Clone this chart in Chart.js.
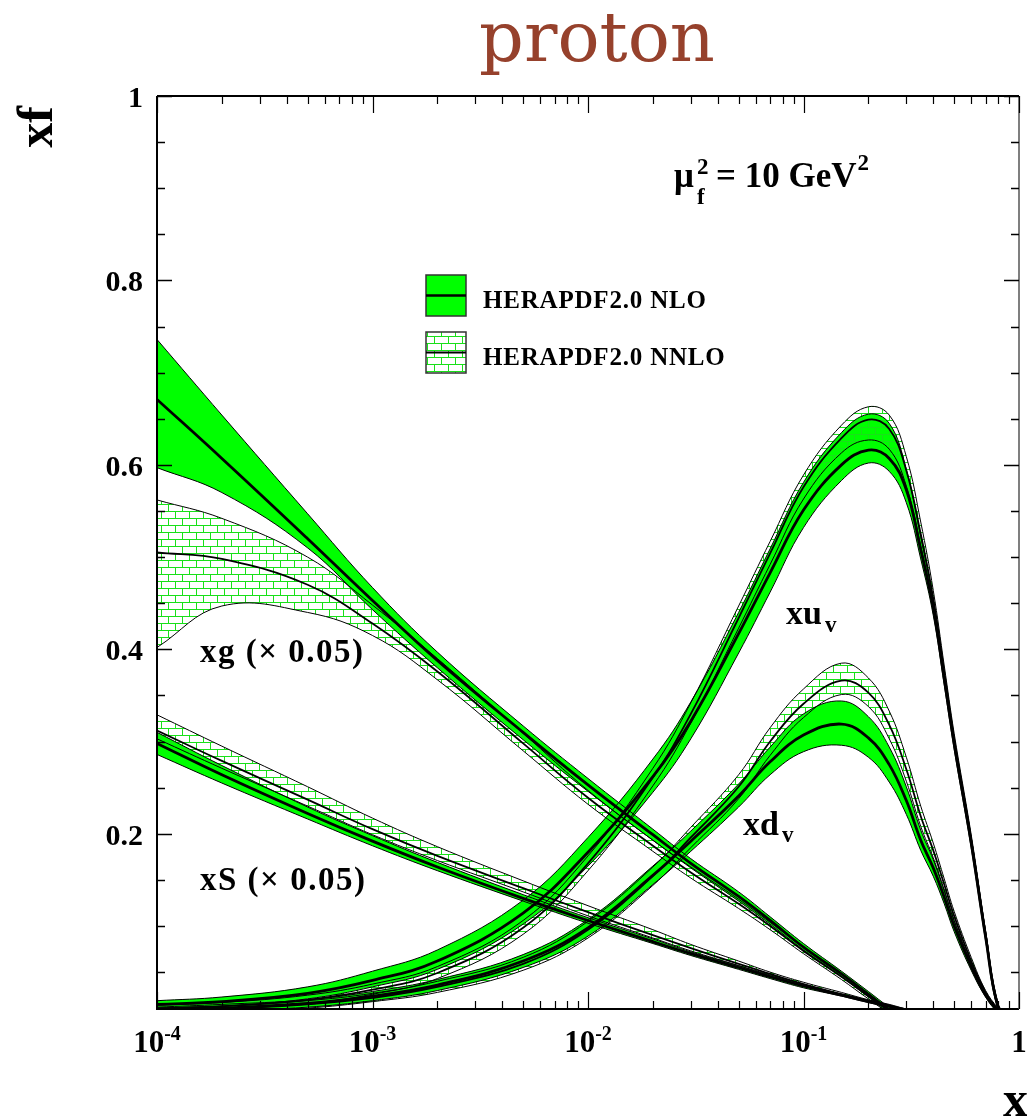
<!DOCTYPE html>
<html>
<head>
<meta charset="utf-8">
<script src="https://cdn.jsdelivr.net/npm/chart.js@4.4.1/dist/chart.umd.min.js"></script>
<style>
  html, body { margin: 0; padding: 0; background: #ffffff; }
  canvas { display: block; }
</style>
</head>
<body>
<canvas id="pdf" width="1027" height="1119" style="width:1027px;height:1119px"></canvas>
<script>
// ---- x grid (momentum fraction) ----
const xGrid = [1e-4, 2e-4, 5e-4, 1e-3, 2e-3, 5e-3, 0.01, 0.02, 0.03, 0.05, 0.07, 0.1,
               0.15, 0.2, 0.25, 0.3, 0.35, 0.4, 0.45, 0.5, 0.6, 0.7, 0.8, 0.9];

// ---- xg (x 0.05) ----
const gNloMid  = [0.671, 0.607, 0.520, 0.453, 0.388, 0.310, 0.253, 0.199, 0.168, 0.132, 0.106, 0.077, 0.048, 0.026, 0.009, 0, 0, 0, 0, 0, 0, 0, 0, 0];
const gNloLo   = [0.597, 0.570, 0.510, 0.443, 0.380, 0.302, 0.246, 0.193, 0.163, 0.127, 0.102, 0.074, 0.045, 0.023, 0.006, 0, 0, 0, 0, 0, 0, 0, 0, 0];
const gNloHi   = [0.736, 0.654, 0.547, 0.467, 0.397, 0.317, 0.260, 0.205, 0.173, 0.137, 0.110, 0.081, 0.051, 0.029, 0.012, 0.001, 0, 0, 0, 0, 0, 0, 0, 0];
const gNnloMid = [0.505, 0.498, 0.470, 0.428, 0.376, 0.298, 0.239, 0.187, 0.158, 0.124, 0.100, 0.073, 0.045, 0.024, 0.008, 0, 0, 0, 0, 0, 0, 0, 0, 0];
const gNnloLo  = [0.402, 0.447, 0.440, 0.415, 0.367, 0.290, 0.232, 0.181, 0.152, 0.119, 0.096, 0.070, 0.042, 0.021, 0.006, 0, 0, 0, 0, 0, 0, 0, 0, 0];
const gNnloHi  = [0.562, 0.542, 0.500, 0.448, 0.390, 0.309, 0.247, 0.193, 0.164, 0.129, 0.104, 0.077, 0.048, 0.027, 0.010, 0, 0, 0, 0, 0, 0, 0, 0, 0];

// ---- xS (x 0.05) ----
const sNloMid  = [0.298, 0.264, 0.222, 0.192, 0.164, 0.130, 0.106, 0.083, 0.070, 0.055, 0.045, 0.035, 0.025, 0.018, 0.013, 0.009, 0.006, 0.004, 0.002, 0.001, 0, 0, 0, 0];
const sNloLo   = [0.286, 0.255, 0.216, 0.187, 0.160, 0.127, 0.103, 0.081, 0.068, 0.053, 0.043, 0.033, 0.024, 0.017, 0.012, 0.008, 0.005, 0.003, 0.001, 0, 0, 0, 0, 0];
const sNloHi   = [0.310, 0.274, 0.229, 0.198, 0.169, 0.134, 0.109, 0.086, 0.072, 0.057, 0.047, 0.037, 0.026, 0.019, 0.014, 0.010, 0.007, 0.005, 0.003, 0.002, 0, 0, 0, 0];
const sNnloMid = [0.312, 0.279, 0.237, 0.205, 0.176, 0.141, 0.115, 0.090, 0.076, 0.059, 0.048, 0.037, 0.026, 0.019, 0.014, 0.009, 0.006, 0.004, 0.002, 0.001, 0, 0, 0, 0];
const sNnloLo  = [0.303, 0.271, 0.230, 0.199, 0.171, 0.137, 0.111, 0.087, 0.073, 0.057, 0.046, 0.035, 0.025, 0.018, 0.013, 0.008, 0.005, 0.003, 0.001, 0, 0, 0, 0, 0];
const sNnloHi  = [0.329, 0.295, 0.251, 0.217, 0.186, 0.149, 0.122, 0.096, 0.080, 0.062, 0.050, 0.039, 0.028, 0.020, 0.015, 0.010, 0.007, 0.005, 0.003, 0.001, 0, 0, 0, 0];

// ---- xu_v ----
const uNloMid  = [0.015, 0.018, 0.027, 0.041, 0.062, 0.114, 0.180, 0.262, 0.322, 0.417, 0.483, 0.551, 0.600, 0.616, 0.607, 0.573, 0.508, 0.445, 0.368, 0.298, 0.190, 0.088, 0.012, 0];
const uNloLo   = [0.010, 0.013, 0.021, 0.034, 0.053, 0.102, 0.165, 0.245, 0.303, 0.396, 0.462, 0.532, 0.583, 0.602, 0.593, 0.559, 0.498, 0.437, 0.361, 0.292, 0.185, 0.084, 0.009, 0];
const uNloHi   = [0.019, 0.023, 0.034, 0.051, 0.074, 0.128, 0.196, 0.281, 0.343, 0.440, 0.509, 0.581, 0.635, 0.655, 0.645, 0.595, 0.522, 0.454, 0.375, 0.304, 0.196, 0.094, 0.015, 0];
const uNnloMid = [0.011, 0.013, 0.020, 0.031, 0.049, 0.098, 0.168, 0.261, 0.330, 0.434, 0.504, 0.576, 0.629, 0.649, 0.639, 0.594, 0.525, 0.455, 0.375, 0.303, 0.194, 0.091, 0.013, 0];
const uNnloLo  = [0.008, 0.010, 0.016, 0.026, 0.043, 0.091, 0.160, 0.252, 0.320, 0.423, 0.492, 0.563, 0.613, 0.627, 0.617, 0.577, 0.512, 0.447, 0.368, 0.297, 0.189, 0.087, 0.010, 0];
const uNnloHi  = [0.014, 0.017, 0.025, 0.037, 0.056, 0.106, 0.176, 0.271, 0.342, 0.447, 0.517, 0.589, 0.643, 0.663, 0.654, 0.609, 0.538, 0.464, 0.382, 0.309, 0.199, 0.095, 0.016, 0];

// ---- xd_v ----
const dNloMid  = [0.009, 0.011, 0.016, 0.024, 0.036, 0.062, 0.098, 0.155, 0.192, 0.241, 0.278, 0.307, 0.319, 0.304, 0.275, 0.236, 0.193, 0.163, 0.131, 0.100, 0.056, 0.025, 0.008, 0];
const dNloLo   = [0.006, 0.008, 0.012, 0.019, 0.030, 0.055, 0.089, 0.145, 0.181, 0.229, 0.264, 0.289, 0.296, 0.283, 0.256, 0.221, 0.182, 0.154, 0.124, 0.094, 0.052, 0.023, 0.006, 0];
const dNloHi   = [0.012, 0.015, 0.020, 0.029, 0.042, 0.069, 0.107, 0.165, 0.203, 0.254, 0.294, 0.330, 0.344, 0.327, 0.294, 0.251, 0.204, 0.172, 0.138, 0.106, 0.060, 0.028, 0.010, 0];
const dNnloMid = [0.008, 0.010, 0.015, 0.022, 0.034, 0.059, 0.096, 0.154, 0.196, 0.251, 0.300, 0.341, 0.366, 0.353, 0.318, 0.270, 0.219, 0.182, 0.145, 0.111, 0.062, 0.028, 0.009, 0];
const dNnloLo  = [0.005, 0.007, 0.011, 0.018, 0.028, 0.052, 0.087, 0.144, 0.185, 0.238, 0.285, 0.326, 0.351, 0.338, 0.303, 0.257, 0.208, 0.174, 0.139, 0.106, 0.058, 0.026, 0.007, 0];
const dNnloHi  = [0.011, 0.013, 0.019, 0.027, 0.040, 0.066, 0.105, 0.164, 0.207, 0.264, 0.315, 0.357, 0.385, 0.369, 0.333, 0.283, 0.230, 0.190, 0.151, 0.116, 0.066, 0.030, 0.011, 0];

// ---- axis ticks ----
const xTickValues = [1e-4, 1e-3, 1e-2, 1e-1, 1];
const xTickExps   = ['-4', '-3', '-2', '-1', null];
const yTickValues = [0.2, 0.4, 0.6, 0.8, 1];
const yTickLabels = ['0.2', '0.4', '0.6', '0.8', '1'];

const legendLabels = ['HERAPDF2.0 NLO', 'HERAPDF2.0 NNLO'];

// ---- styles ----
const GREEN = '#00ff00';
const SERIF = '"Liberation Serif", "Times New Roman", serif';

function brickPattern() {
  const c = document.createElement('canvas');
  c.width = 14; c.height = 14;
  const g = c.getContext('2d');
  g.strokeStyle = '#19e019';
  g.lineWidth = 1;
  g.beginPath();
  g.moveTo(0, 0.5);  g.lineTo(14, 0.5);
  g.moveTo(0, 7.5);  g.lineTo(14, 7.5);
  g.moveTo(0.5, 0);  g.lineTo(0.5, 7);
  g.moveTo(7.5, 7);  g.lineTo(7.5, 14);
  g.stroke();
  return document.getElementById('pdf').getContext('2d').createPattern(c, 'repeat');
}
const BRICK = brickPattern();

const pts = arr => xGrid.map((x, i) => ({ x: x, y: arr[i] }));

const datasets = [];
function addBand(lo, hi, fillStyle, order) {
  datasets.push({ data: pts(lo), borderColor: '#000', borderWidth: 1, fill: false, order: order });
  datasets.push({ data: pts(hi), borderColor: '#000', borderWidth: 1, fill: '-1',
                  backgroundColor: fillStyle, order: order });
}
function addCentral(mid, width, order) {
  datasets.push({ data: pts(mid), borderColor: '#000', borderWidth: width, fill: false, order: order });
}

const pdfs = [
  [gNloLo, gNloMid, gNloHi, gNnloLo, gNnloMid, gNnloHi],
  [sNloLo, sNloMid, sNloHi, sNnloLo, sNnloMid, sNnloHi],
  [uNloLo, uNloMid, uNloHi, uNnloLo, uNnloMid, uNnloHi],
  [dNloLo, dNloMid, dNloHi, dNnloLo, dNnloMid, dNnloHi]
];
pdfs.forEach(p => addBand(p[0], p[2], GREEN, 10));
pdfs.forEach(p => addBand(p[3], p[5], BRICK, 6));
pdfs.forEach(p => addCentral(p[4], 1.8, 3));
pdfs.forEach(p => addCentral(p[1], 2.8, 1));

// frame, ticks, labels, legend and annotations
const decorations = {
  id: 'decorations',
  afterDraw(chart) {
    const ctx = chart.ctx;
    const a = chart.chartArea;
    const xs = chart.scales.x, ys = chart.scales.y;
    ctx.save();

    // frame
    ctx.strokeStyle = '#000';
    ctx.lineWidth = 2;
    ctx.beginPath();
    ctx.moveTo(a.left, a.top); ctx.lineTo(a.left, a.bottom); ctx.lineTo(a.right, a.bottom);
    ctx.moveTo(a.left, a.top); ctx.lineTo(a.right, a.top);
    ctx.stroke();
    ctx.strokeStyle = '#555';
    ctx.lineWidth = 1.5;
    ctx.beginPath();
    ctx.moveTo(a.right, a.top); ctx.lineTo(a.right, a.bottom);
    ctx.stroke();

    // y ticks (every 0.05, long ones at the labelled values)
    ctx.strokeStyle = '#000';
    ctx.lineWidth = 1.5;
    ctx.beginPath();
    for (let k = 1; k <= 20; k++) {
      const v = k / 20;
      const py = Math.round(ys.getPixelForValue(v)) + 0.5;
      const major = (k % 4 === 0);
      const len = major ? 15 : 8;
      ctx.moveTo(a.left, py); ctx.lineTo(a.left + len, py);
      ctx.moveTo(a.right, py); ctx.lineTo(a.right - len, py);
    }
    ctx.stroke();

    // x ticks (decades long, 2..9 short)
    ctx.lineWidth = 1.2;
    ctx.beginPath();
    for (let d = -4; d <= 0; d++) {
      for (let m = 1; m <= 9; m++) {
        const v = m * Math.pow(10, d);
        if (v > 1.0000001) break;
        const px = Math.round(xs.getPixelForValue(v)) + 0.5;
        const len = (m === 1) ? 17 : 8;
        ctx.moveTo(px, a.bottom); ctx.lineTo(px, a.bottom - len);
        ctx.moveTo(px, a.top); ctx.lineTo(px, a.top + len);
      }
    }
    ctx.stroke();

    ctx.fillStyle = '#000';
    ctx.textBaseline = 'alphabetic';

    // y tick labels
    ctx.font = 'bold 30px ' + SERIF;
    ctx.textAlign = 'right';
    yTickValues.forEach((v, i) => {
      ctx.fillText(yTickLabels[i], 143, ys.getPixelForValue(v) + 11);
    });

    // x tick labels: 10 with superscript exponent
    xTickValues.forEach((v, i) => {
      const px = xs.getPixelForValue(v);
      const exp = xTickExps[i];
      if (exp === null) {
        ctx.font = 'bold 31px ' + SERIF;
        ctx.textAlign = 'center';
        ctx.fillText('1', px, 1052);
        return;
      }
      ctx.textAlign = 'left';
      ctx.font = 'bold 31px ' + SERIF;
      const wBase = ctx.measureText('10').width;
      ctx.font = 'bold 20px ' + SERIF;
      const wExp = ctx.measureText(exp).width;
      const x0 = px - (wBase + wExp) / 2;
      ctx.font = 'bold 31px ' + SERIF;
      ctx.fillText('10', x0, 1052);
      ctx.font = 'bold 20px ' + SERIF;
      ctx.fillText(exp, x0 + wBase, 1040);
    });

    // axis titles
    ctx.font = 'bold 50px ' + SERIF;
    ctx.textAlign = 'left';
    ctx.fillText('x', 1003, 1116);
    ctx.save();
    ctx.translate(52, 127);
    ctx.rotate(-Math.PI / 2);
    ctx.textAlign = 'center';
    ctx.fillText('xf', 0, 0);
    ctx.restore();

    // title
    ctx.font = '70px "DejaVu Serif", serif';
    ctx.fillStyle = '#96412c';
    ctx.textAlign = 'center';
    ctx.fillText('proton', 597, 61);
    ctx.fillStyle = '#000';

    // scale annotation  mu_f^2 = 10 GeV^2
    ctx.textAlign = 'left';
    ctx.font = 'bold 35px ' + SERIF;
    ctx.fillText('\u03bc', 674, 187);
    ctx.font = 'bold 23px ' + SERIF;
    ctx.fillText('2', 697, 174);
    ctx.fillText('f', 697, 204);
    ctx.font = 'bold 35px ' + SERIF;
    ctx.fillText('= 10 GeV', 716, 187);
    const wg = ctx.measureText('= 10 GeV').width;
    ctx.font = 'bold 23px ' + SERIF;
    ctx.fillText('2', 716 + wg + 1, 170);

    // curve labels
    ctx.font = 'bold 33px ' + SERIF;
    ctx.letterSpacing = '1.5px';
    ctx.fillText('xg (\u00d7 0.05)', 200, 662);
    ctx.fillText('xS (\u00d7 0.05)', 200, 890);
    ctx.letterSpacing = '0px';
    ctx.font = 'bold 34px ' + SERIF;
    ctx.fillText('xu', 786, 624);
    ctx.fillText('xd', 743, 835);
    ctx.font = 'bold 23px ' + SERIF;
    ctx.fillText('v', 825, 632);
    ctx.fillText('v', 782, 842);

    // legend
    const boxes = [[426, 275, GREEN, 2.6], [426, 332, '#ffffff', 2.2]];
    boxes.forEach((b, i) => {
      const [bx, by, fc, lw] = b;
      ctx.fillStyle = fc;
      ctx.fillRect(bx, by, 40, 41);
      if (i === 1) { ctx.fillStyle = BRICK; ctx.fillRect(bx, by, 40, 41); }
      ctx.strokeStyle = '#333';
      ctx.lineWidth = 1.5;
      ctx.strokeRect(bx, by, 40, 41);
      ctx.strokeStyle = '#000';
      ctx.lineWidth = lw;
      ctx.beginPath();
      ctx.moveTo(bx, by + 20.5); ctx.lineTo(bx + 40, by + 20.5);
      ctx.stroke();
      ctx.fillStyle = '#000';
      ctx.font = 'bold 25px ' + SERIF;
      ctx.letterSpacing = '0.8px';
      ctx.fillText(legendLabels[i], 483, by + 33);
      ctx.letterSpacing = '0px';
    });

    ctx.restore();
  }
};

new Chart(document.getElementById('pdf'), {
  type: 'line',
  data: { datasets: datasets },
  options: {
    responsive: false,
    animation: false,
    devicePixelRatio: 1,
    layout: { padding: { left: 157, top: 96, right: 8, bottom: 110 } },
    elements: {
      point: { radius: 0 },
      line: { tension: 0.4, cubicInterpolationMode: 'default' }
    },
    scales: {
      x: { type: 'logarithmic', min: 1e-4, max: 1, display: false },
      y: { type: 'linear', min: 0.01, max: 1, display: false }
    },
    plugins: {
      legend: { display: false },
      tooltip: { enabled: false },
      filler: { drawTime: 'beforeDatasetsDraw' }
    }
  },
  plugins: [decorations]
});
</script>
</body>
</html>
